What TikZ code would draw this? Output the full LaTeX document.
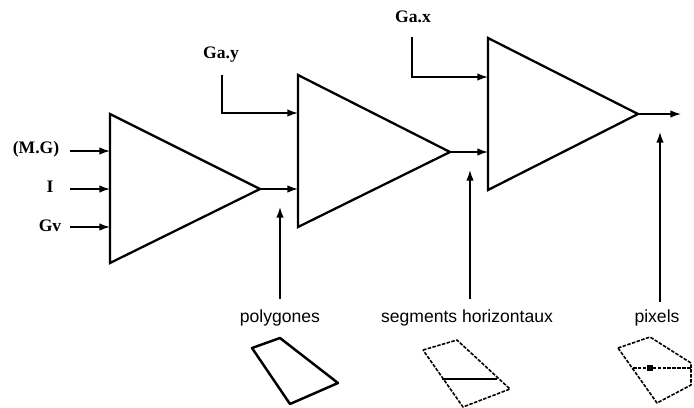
\documentclass[tikz,border=0pt]{standalone}
\usepackage{fontspec}
\setmainfont{Liberation Serif}
\setsansfont{Liberation Sans}
\usetikzlibrary{arrows.meta}

\begin{document}
\begin{tikzpicture}[x=0.02cm, y=-0.02cm,
        tri/.style={draw, line width=1.3pt, line join=miter},
        arrow/.style={->, line width=0.8pt, >={Latex[length=6pt,width=4.2pt]}},
        inlbl/.style={font=\bfseries, inner sep=1pt},
        stagelbl/.style={font=\sffamily, inner sep=1pt},
        solidquad/.style={draw, line width=1.4pt, line join=round},
        dashquad/.style={draw, line width=0.9pt, dash pattern=on 2pt off 0.8pt, line join=round}
    ]
        \useasboundingbox (0,0) rectangle (694,407);

        % the three stages
        \draw[tri] (110,114) coordinate (t1top) -- (260,189) coordinate (t1tip) -- (110,263) coordinate (t1bot) -- cycle;
        \draw[tri] (298,75) coordinate (t2top) -- (450,152) coordinate (t2tip) -- (298,227) coordinate (t2bot) -- cycle;
        \draw[tri] (488,38) coordinate (t3top) -- (638,114) coordinate (t3tip) -- (488,190) coordinate (t3bot) -- cycle;
        \coordinate (out) at (681,114);

        % inputs of the first stage
        \node[inlbl] (mg) at (36,149) {(M.G)};
        \node[inlbl] (ii) at (50,187) {I};
        \node[inlbl] (gv) at (50,226) {Gv};
        \draw[arrow] (70,151) -- (t1top |- 0,151);
        \draw[arrow] (70,189) -- (t1top |- 0,189);
        \draw[arrow] (70,227) -- (t1top |- 0,227);

        % Ga.y and Ga.x
        \node[inlbl] (gay) at (221,55) {Ga.y};
        \node[inlbl] (gax) at (413,17) {Ga.x};
        \coordinate (gaystart) at (222,75);
        \coordinate (gaxstart) at (412,37);
        \draw[arrow] (gaystart) |- (t2top |- 0,113);
        \draw[arrow] (gaxstart) |- (t3top |- 0,77);

        % stage to stage
        \draw[arrow] (t1tip) -- (t2top |- t1tip);
        \draw[arrow] (t2tip) -- (t3top |- t2tip);
        \draw[arrow] (t3tip) -- (out);

        % what each stage gives
        \node[stagelbl] (pol) at (280,318) {polygones};
        \node[stagelbl] (seg) at (467,318) {segments horizontaux};
        \node[stagelbl] (pix) at (657,318) {pixels};
        \coordinate (polin) at (280,207);
        \coordinate (segin) at (470,170);
        \coordinate (pixin) at (660,132);
        \draw[arrow] (280,299) -- (polin);
        \draw[arrow] (470,299) -- (segin);
        \draw[arrow] (660,302) -- (pixin);

        % small sketches
        \draw[solidquad] (252,348) -- (280,338) -- (338,383) -- (290,404) -- cycle;
        \draw[dashquad] (423,350) -- (457,340) -- (510,389) -- (463,407) -- cycle;
        \draw[line width=1.4pt] (442,379) -- (497,379);
        \draw[dashquad] (618,348) -- (650,337) -- (691,363) -- (691,385) -- (657,403) -- cycle;
        \draw[dashquad] (633,368) -- (691,368);
        \fill (647,365) rectangle (653,371);
    \end{tikzpicture}
\end{document}
